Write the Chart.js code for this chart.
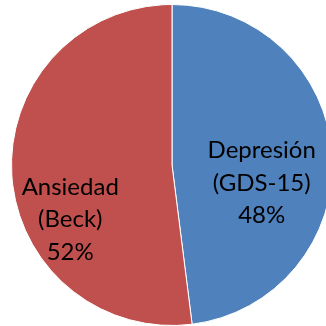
<!DOCTYPE html>
<html>
<head>
<meta charset="utf-8">
<script src="https://cdn.jsdelivr.net/npm/chart.js@4/dist/chart.umd.min.js"></script>
<style>
  html, body { margin:0; padding:0; background:#fff; overflow:hidden; width:326px; height:326px; }
  #wrap { position:absolute; left:0; top:0; width:344px; height:330px; }
</style>
</head>
<body>
<div id="wrap"><canvas id="c"></canvas></div>
<script>
const categories = [["Depresión", "(GDS-15)"], ["Ansiedad", "(Beck)"]];
const values = [48, 52];
const colors = ["#4F81BD", "#C0504D"];

const labelPlugin = {
  id: 'sliceLabels',
  afterDatasetsDraw(chart, args, opts) {
    const ctx = chart.ctx;
    const meta = chart.getDatasetMeta(0);
    const total = values.reduce((a, b) => a + b, 0);
    ctx.save();
    ctx.font = opts.font;
    ctx.fillStyle = opts.color;
    ctx.textAlign = 'center';
    ctx.textBaseline = 'alphabetic';
    meta.data.forEach((arc, i) => {
      const R = arc.outerRadius;
      const off = opts.offsets[i];
      const cx = arc.x + off[0] * R;
      const cy = arc.y + off[1] * R;
      const lines = categories[i].concat([Math.round(values[i] / total * 100) + '%']);
      const lh = opts.lineHeight;
      lines.forEach((t, k) => {
        ctx.fillText(t, cx, cy + (k - 1) * lh);
      });
    });
    ctx.restore();
  }
};

new Chart(document.getElementById('c'), {
  type: 'pie',
  data: {
    labels: categories.map(c => c.join(' ')),
    datasets: [{
      data: values,
      backgroundColor: colors,
      borderColor: '#ffffff',
      borderWidth: 1
    }]
  },
  options: {
    responsive: true,
    maintainAspectRatio: false,
    animation: false,
    layout: { padding: 4 },
    plugins: {
      legend: { display: false },
      tooltip: { enabled: false },
      sliceLabels: {
        font: '24px Lato',
        color: '#000000',
        lineHeight: 32.5,
        offsets: [[0.559, 0.161], [-0.634, 0.387]]
      }
    }
  },
  plugins: [labelPlugin]
});
</script>
</body>
</html>
